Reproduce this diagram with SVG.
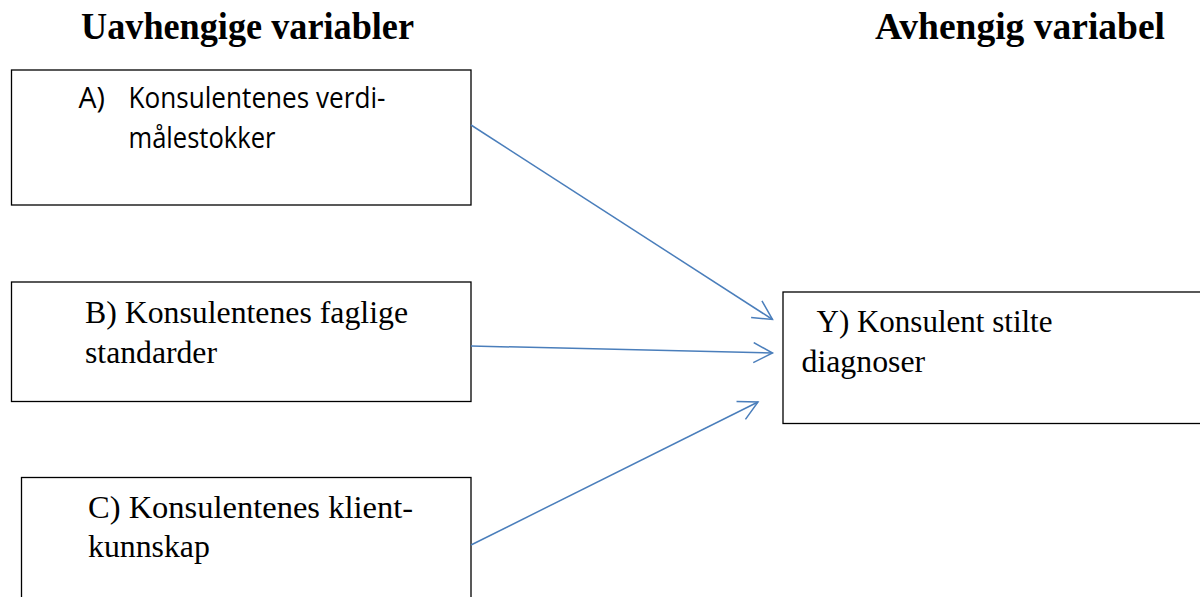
<svg xmlns="http://www.w3.org/2000/svg" width="1200" height="597" viewBox="0 0 1200 597">
<style>
.box{fill:#fff;stroke:#000;stroke-width:1.3}
.hdr{font-family:"Liberation Serif","Times New Roman",serif;font-weight:bold;font-size:37px;fill:#000}
.ser{font-family:"Liberation Serif","Times New Roman",serif;font-size:31.8px;fill:#000}
.sans{font-family:"Open Sans","Noto Sans","Liberation Sans",sans-serif;font-size:28.5px;fill:#000}
.conn{fill:none;stroke:#4a7ebb;stroke-width:1.5}
</style>
<defs>
<marker id="arr" markerUnits="userSpaceOnUse" viewBox="0 0 22 22" refX="20" refY="11" markerWidth="22" markerHeight="22" orient="auto">
<path d="M1,1 L20,11 L1,21" fill="none" stroke="#4a7ebb" stroke-width="1.5"/>
</marker>
</defs>
<rect width="1200" height="597" fill="#fff"/>
<g id="headers">
<text class="hdr" x="81" y="39" textLength="333" lengthAdjust="spacingAndGlyphs">Uavhengige variabler</text>
<text class="hdr" x="875" y="39" textLength="290" lengthAdjust="spacingAndGlyphs">Avhengig variabel</text>
</g>
<g id="nodeA">
<rect class="box" x="11.5" y="70" width="459.5" height="135"/>
<text class="sans" x="78.5" y="108">A)</text>
<text class="sans" x="128.5" y="108" textLength="257" lengthAdjust="spacingAndGlyphs">Konsulentenes verdi-</text>
<text class="sans" x="128.5" y="148" textLength="147" lengthAdjust="spacingAndGlyphs">målestokker</text>
</g>
<g id="nodeB">
<rect class="box" x="11.5" y="282" width="459.5" height="119.5"/>
<text class="ser" x="85" y="323" textLength="323" lengthAdjust="spacingAndGlyphs">B) Konsulentenes faglige</text>
<text class="ser" x="85" y="363" textLength="132" lengthAdjust="spacingAndGlyphs">standarder</text>
</g>
<g id="nodeC">
<rect class="box" x="21.5" y="477.5" width="449.5" height="130"/>
<text class="ser" x="88" y="518" textLength="325" lengthAdjust="spacingAndGlyphs">C) Konsulentenes klient-</text>
<text class="ser" x="88" y="557">kunnskap</text>
</g>
<g id="nodeY">
<rect class="box" x="783" y="292" width="430" height="131.5"/>
<text class="ser" x="816.5" y="332" textLength="236" lengthAdjust="spacingAndGlyphs">Y) Konsulent stilte</text>
<text class="ser" x="801.5" y="372">diagnoser</text>
</g>
<g id="connectors">
<line class="conn" x1="471" y1="125" x2="772.5" y2="319.5" marker-end="url(#arr)"/>
<line class="conn" x1="471" y1="346" x2="772.5" y2="353" marker-end="url(#arr)"/>
<line class="conn" x1="471" y1="545" x2="758" y2="402" marker-end="url(#arr)"/>
</g>
</svg>
